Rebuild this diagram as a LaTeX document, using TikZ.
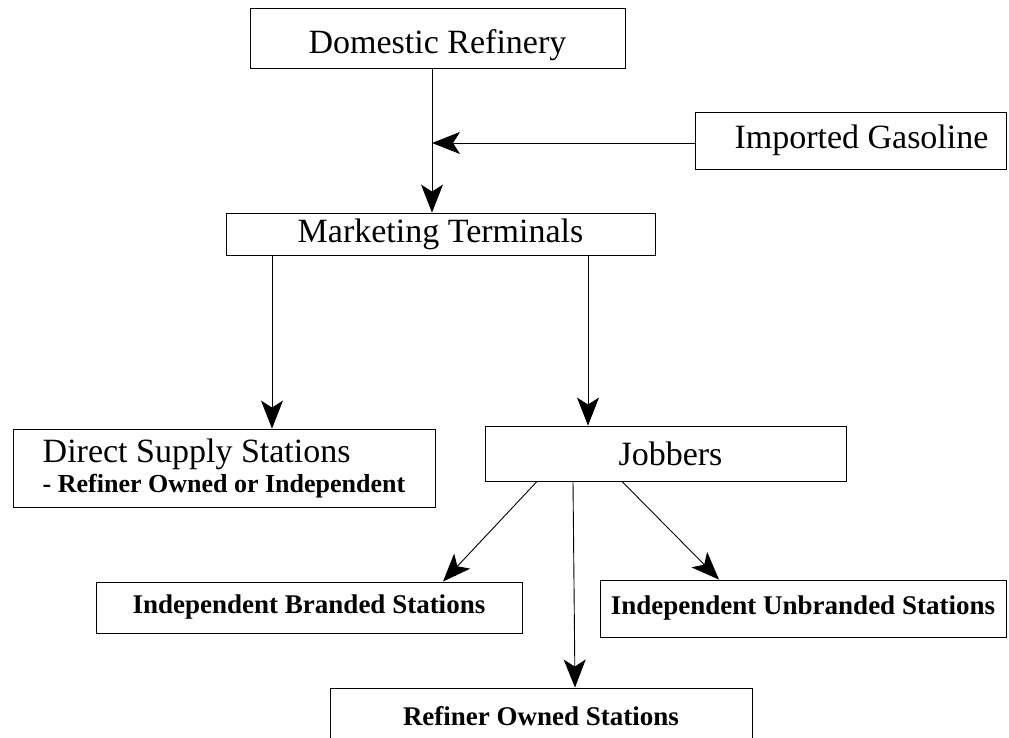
\documentclass[tikz,border=0pt]{standalone}
\usepackage{fontspec}
\setmainfont{Liberation Serif}
\usetikzlibrary{arrows.meta}

\tikzset{
  flowbox/.style={draw, line width=0.9pt, inner sep=0pt,
    font=\fontsize{34}{38}\selectfont},
  outletbox/.style={flowbox, font=\bfseries\fontsize{27}{30}\selectfont},
  flowarrow/.style={line width=0.9pt,
    -{Stealth[length=28pt,width=22pt,inset=7pt]}},
}

\begin{document}
\begin{tikzpicture}[x=1pt,y=-1pt]
	\useasboundingbox (0,0) rectangle (1009,738);
	\clip (0,0) rectangle (1009,738);

	\node[flowbox, minimum width=375pt, minimum height=60pt,
	      text height=36pt, text depth=4pt] (dr) at (437.5,38) {Domestic Refinery};
	\node[flowbox, minimum width=311pt, minimum height=57pt] (ig) at (850.5,140.5) {\hspace*{22pt}Imported Gasoline};
	\node[flowbox, minimum width=429pt, minimum height=42pt] (mt) at (440.5,234) {Marketing Terminals};
	\node[flowbox, minimum width=422pt, minimum height=78pt, align=left] (dss) at (224,468)
	  {Direct Supply Stations\hspace*{14pt}\\[-8pt]
	   {\bfseries\fontsize{26}{30}\selectfont - Refiner Owned or Independent}};
	\node[flowbox, minimum width=361pt, minimum height=55pt] (jb) at (665.5,453.5) {\hspace*{10pt}Jobbers};
	\node[outletbox, minimum width=426pt, minimum height=51pt] (ibs) at (309,607.5) {Independent Branded Stations};
	\node[outletbox, minimum width=406pt, minimum height=57pt] (ius) at (803,608.5) {Independent Unbranded Stations};
	\node[outletbox, minimum width=422pt, minimum height=56pt] (ros) at (541,716) {Refiner Owned Stations};

	\coordinate (join) at (432,143);

	\path[flowarrow]
	(dr.south -| join) edge (mt.north -| join)
	(ig.west |- join) edge (join)
	([xshift=-168.5pt]mt.south) edge ([xshift=48pt]dss.north)
	([xshift=147.5pt]mt.south) edge ([xshift=-77.5pt]jb.north)
	([xshift=-128.5pt]jb.south) edge ([xshift=134pt]ibs.north)
	([xshift=-92.5pt]jb.south) edge ([xshift=34pt]ros.north)
	([xshift=-43.5pt]jb.south) edge ([xshift=-84pt]ius.north);
\end{tikzpicture}
\end{document}
